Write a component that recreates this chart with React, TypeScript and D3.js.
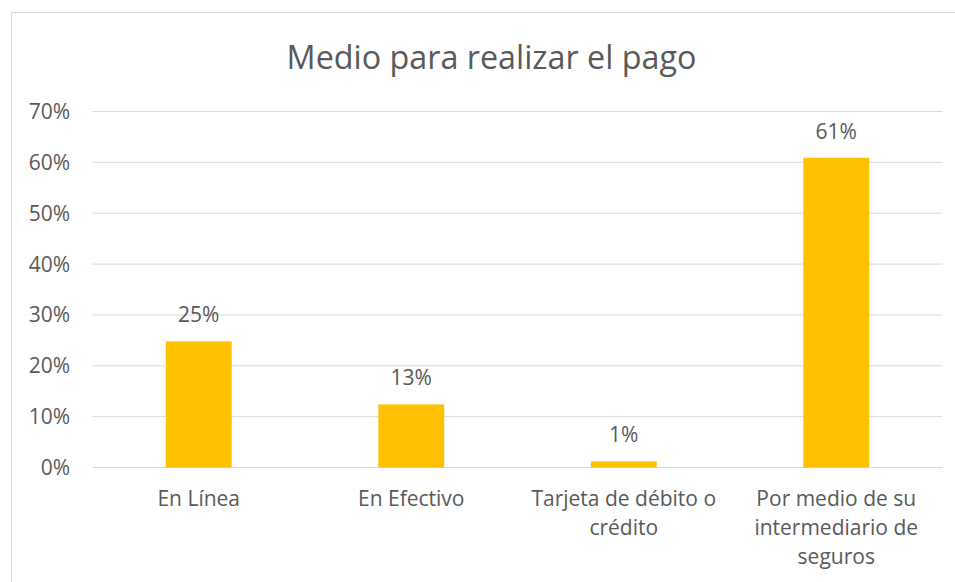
import React from "react";
import * as d3 from "d3";

const categories: string[][] = [
  ["En Línea"],
  ["En Efectivo"],
  ["Tarjeta de débito o", "crédito"],
  ["Por medio de su", "intermediario de", "seguros"],
];
const values: number[] = [0.248, 0.124, 0.012, 0.609];
const valueLabels: string[] = ["25%", "13%", "1%", "61%"];
const yTicks: number[] = [0, 0.1, 0.2, 0.3, 0.4, 0.5, 0.6, 0.7];
const title = "Medio para realizar el pago";

const W = 955;
const H = 582;
const FONT = "'Open Sans', 'Noto Sans', sans-serif";
const TEXT = "#595959";
const GRID = "#D9D9D9";
const BAR = "#FFC000";
const FS = 21;

export default function App() {
  const x = d3
    .scaleBand<number>()
    .domain(categories.map((_, i) => i))
    .range([92.5, 942.5])
    .paddingInner(0.69)
    .paddingOuter(0.345);
  const y = d3.scaleLinear().domain([0, 0.7]).range([467.5, 111.5]);
  const fmt = d3.format(".0%");

  return (
    <svg
      width={W}
      height={H}
      style={{ position: "absolute", left: 0, top: 0, background: "#fff" }}
    >
      <rect x={11.5} y={12.5} width={960} height={600} fill="#fff" stroke={GRID} strokeWidth={1} />
      <text x={491.5} y={68.5} textAnchor="middle" fontFamily={FONT} fontSize={32.3} fill={TEXT}>
        {title}
      </text>
      {yTicks.map((t) => (
        <g key={t}>
          <line x1={92.5} x2={942.5} y1={y(t)} y2={y(t)} stroke={GRID} strokeWidth={1} />
          <text x={70} y={y(t)} dy="0.36em" textAnchor="end" fontFamily={FONT} fontSize={FS} fill={TEXT}>
            {fmt(t)}
          </text>
        </g>
      ))}
      {values.map((v, i) => (
        <g key={i}>
          <rect x={x(i)} y={y(v)} width={x.bandwidth()} height={y(0) - y(v)} fill={BAR} />
          <text
            x={(x(i) as number) + x.bandwidth() / 2}
            y={y(v) - 19}
            textAnchor="middle"
            fontFamily={FONT}
            fontSize={FS}
            fill={TEXT}
          >
            {valueLabels[i]}
          </text>
          {categories[i].map((line, j) => (
            <text
              key={j}
              x={(x(i) as number) + x.bandwidth() / 2}
              y={506 + j * 29}
              textAnchor="middle"
              fontFamily={FONT}
              fontSize={FS}
              fill={TEXT}
            >
              {line}
            </text>
          ))}
        </g>
      ))}
    </svg>
  );
}
